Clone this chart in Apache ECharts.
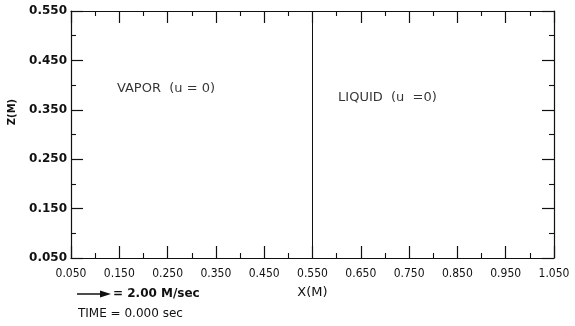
<!DOCTYPE html>
<html>
<head>
<meta charset="utf-8">
<script src="https://cdn.jsdelivr.net/npm/echarts@6/dist/echarts.min.js"></script>
<style>
html,body{margin:0;padding:0;background:#fff;}
#chart{width:575px;height:326px;}
</style>
</head>
<body>
<div id="chart"></div>
<script>
// Axis ranges and tick spacing (metres)
var xRange = [0.05, 1.05];
var zRange = [0.05, 0.55];
var tickStep = 0.1;
// Vapor/liquid interface position (metres)
var interfaceX = 0.55;
var interfaceZ = [0.05, 0.55];
// Region annotations: [x, z, text]
var regionLabels = [
  [0.145, 0.393, 'VAPOR  (u = 0)'],
  [0.603, 0.375, 'LIQUID  (u  =0)']
];
var velocityScaleText = '= 2.00 M/sec';
var timeText = 'TIME = 0.000 sec';

var chart = echarts.init(document.getElementById('chart'), null, {renderer: 'canvas'});
var ink = '#111';
function axisCommon(showLabels, pos) {
  return {
    type: 'value',
    position: pos,
    splitLine: {show: false},
    axisLine: {show: true, onZero: false, lineStyle: {color: ink, width: 1.2}},
    axisTick: {show: true, inside: true, length: 12, lineStyle: {color: ink, width: 1.2}},
    minorTick: {show: true, splitNumber: 2, length: 5, lineStyle: {color: ink, width: 1.1}},
    minorSplitLine: {show: false}
  };
}
var xBottom = Object.assign(axisCommon(true, 'bottom'), {
  min: xRange[0], max: xRange[1], interval: tickStep,
  name: 'X(M)', nameLocation: 'middle', nameGap: 28,
  nameTextStyle: {fontFamily: 'DejaVu Sans', fontSize: 13, color: ink},
  axisLabel: {show: true, margin: 10, color: ink, fontSize: 12,
    fontFamily: "'Liberation Sans Narrow', 'DejaVu Sans Condensed', sans-serif",
    formatter: function (v) { return v.toFixed(3); }}
});
var xTop = Object.assign(axisCommon(false, 'top'), {
  min: xRange[0], max: xRange[1], interval: tickStep, axisLabel: {show: false}
});
var yLeft = Object.assign(axisCommon(true, 'left'), {
  min: zRange[0], max: zRange[1], interval: tickStep,
  axisLabel: {show: true, margin: 4, color: ink, fontSize: 12, fontWeight: 'bold',
    fontFamily: 'DejaVu Sans',
    formatter: function (v) { return v.toFixed(3); }}
});
var yRight = Object.assign(axisCommon(false, 'right'), {
  min: zRange[0], max: zRange[1], interval: tickStep, axisLabel: {show: false}
});

chart.setOption({
  animation: false,
  backgroundColor: '#fff',
  grid: {left: 71, right: 21, top: 11, bottom: 68, containLabel: false},
  xAxis: [xBottom, xTop],
  yAxis: [yLeft, yRight],
  series: [
    {
      type: 'line',
      data: [[interfaceX, interfaceZ[0]], [interfaceX, interfaceZ[1]]],
      symbol: 'none',
      lineStyle: {color: ink, width: 1},
      silent: true
    },
    {
      type: 'scatter',
      data: regionLabels.map(function (r) { return {value: [r[0], r[1]], name: r[2]}; }),
      symbolSize: 0,
      label: {show: true, position: 'right', distance: 0,
        formatter: function (p) { return p.name; },
        color: '#000', fontSize: 13, fontFamily: 'DejaVu Sans'},
      silent: true
    }
  ],
  graphic: [
    {type: 'text', x: 12, y: 112, rotation: Math.PI / 2,
      style: {text: 'Z(M)', fontSize: 10, fontWeight: 'bold', fontFamily: 'DejaVu Sans', fill: ink,
        align: 'center', verticalAlign: 'middle'}},
    {type: 'line', shape: {x1: 77, y1: 294, x2: 102, y2: 294}, style: {stroke: ink, lineWidth: 1.5}},
    {type: 'polygon', shape: {points: [[100, 290.5], [111, 294], [100, 297.5]]}, style: {fill: ink}},
    {type: 'text', x: 113, y: 294,
      style: {text: velocityScaleText, fontSize: 12, fontWeight: 'bold', fontFamily: 'DejaVu Sans', fill: ink,
        align: 'left', verticalAlign: 'middle'}},
    {type: 'text', x: 78, y: 314,
      style: {text: timeText, fontSize: 12, fontFamily: 'DejaVu Sans', fill: ink,
        align: 'left', verticalAlign: 'middle'}}
  ]
});
</script>
</body>
</html>
